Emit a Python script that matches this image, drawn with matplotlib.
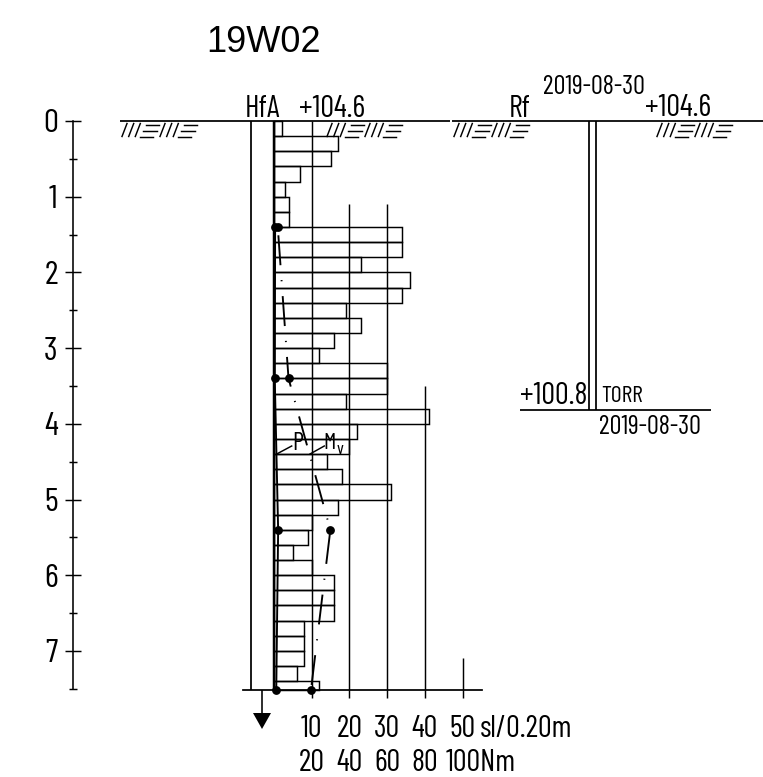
import numpy as np
import matplotlib
matplotlib.use('Agg')
import matplotlib.pyplot as plt
from matplotlib.lines import Line2D
import logging
logging.getLogger('matplotlib.font_manager').setLevel(logging.ERROR)

plt.rcParams['lines.scale_dashes'] = False
plt.rcParams['font.family'] = ['Barlow Condensed', 'Liberation Sans']

W, H = 763, 777

# blow counts per 0.20 m
depth_tops = [0.0, 0.2, 0.4, 0.6, 0.8, 1.0, 1.2, 1.4, 1.6, 1.8, 2.0, 2.2, 2.4, 2.6, 2.8,
              3.0, 3.2, 3.4, 3.6, 3.8, 4.0, 4.2, 4.4, 4.6, 4.8, 5.0, 5.2, 5.4, 5.6, 5.8,
              6.0, 6.2, 6.4, 6.6, 6.8, 7.0, 7.2, 7.4]
depth_size = [0.2] * 37 + [0.12]
blows = [2, 17, 15, 7, 3, 4, 4, 34, 34, 23, 36, 34, 19, 23, 16, 12, 30, 30, 19, 41,
         22, 20, 14, 18, 31, 17, 10, 9, 5, 10, 16, 16, 16, 8, 8, 8, 6, 12]

# torque and push load
load_depth = [1.4, 3.4, 5.4, 7.52]
torque_nm = [2.0, 7.7, 29.9, 19.6]
push_val = [0.3, 0.2, 1.1, 0.6]

grid_x = [10, 20, 30, 40, 50]
grid_top = [0.0, 1.1, 1.1, 3.5, 7.1]
row_sl = ['10', '20', '30', '40', '50']
row_nm = ['20', '40', '60', '80']
depth_ticks = [0, 1, 2, 3, 4, 5, 6, 7]
minor_ticks = [0.5, 1.5, 2.5, 3.5, 4.5, 5.5, 6.5, 7.5]
end_depth = 7.52
rf_depth = 3.82

x0, sx = 274, 3.77
y0, sy = 121, 75.7


def dx(px):
    return (px - x0) / sx


def dy(py):
    return (py - y0) / sy


fig = plt.figure(figsize=(W / 100, H / 100), dpi=100)
ax = fig.add_axes([0, 0, 1, 1], facecolor='none')
ax.set_xlim(dx(0), dx(W))
ax.set_ylim(dy(H), dy(0))

lw = 1.05
ax.barh(depth_tops, blows, height=depth_size, align='edge', left=0, fill=False,
        edgecolor='black', linewidth=lw, zorder=2)
ax.vlines(grid_x, grid_top, end_depth, color='black', lw=lw, zorder=2)

# sounding column
ax.vlines(dx(250.7), 0, end_depth, color='black', lw=lw * 1.2)
ax.vlines(0, 0, end_depth, color='black', lw=lw * 1.7)
ax.hlines(0, dx(120), dx(450), color='black', lw=lw * 1.2)
ax.hlines(0, dx(452), dx(763), color='black', lw=lw * 1.2)

# curves
ax.plot(np.array(torque_nm) / 2, load_depth, color='black', lw=lw * 1.3,
        linestyle=(37.9, (21.6, 10.7, 0.9, 10.7)), zorder=3)
ax.plot(np.array(torque_nm) / 2, load_depth, 'o', color='black', ms=5.3, zorder=4)
ax.plot(push_val, load_depth, color='black', lw=lw * 1.3, zorder=3)
ax.plot(push_val, load_depth, 'o', color='black', ms=5.3, zorder=4)

# depth axis
for s in ['top', 'right']:
    ax.spines[s].set_visible(False)
ax.spines['left'].set_position(('data', dx(73)))
ax.spines['left'].set_bounds(0, 7.5)
ax.spines['left'].set_linewidth(lw * 1.1)
ax.spines['bottom'].set_position(('data', end_depth))
ax.spines['bottom'].set_bounds(dx(243), dx(482))
ax.spines['bottom'].set_linewidth(lw * 1.2)
ax.set_yticks(depth_ticks)
ax.set_yticks(minor_ticks, minor=True)
ax.tick_params(axis='y', which='major', direction='inout', length=12, width=lw, pad=5, labelsize=24)
ax.tick_params(axis='y', which='minor', direction='inout', length=5.8, width=lw)
ax.set_xticks(grid_x)
ax.set_xticklabels([])
ax.tick_params(axis='x', direction='out', length=5.8, width=lw)

for x, a in zip(grid_x, row_sl):
    ax.text(x, dy(737), a, ha='center', va='baseline', fontsize=22)
for x, b in zip(grid_x, row_nm):
    ax.text(x, dy(771), b, ha='center', va='baseline', fontsize=22)
ax.text(dx(480), dy(737), 'sl/0.20m', ha='left', va='baseline', fontsize=22)
ax.text(dx(446), dy(771), '100Nm', ha='left', va='baseline', fontsize=22)

# groundwater arrow
ax.vlines(dx(261.7), end_depth, dy(713), color='black', lw=lw * 1.1)
ax.fill([dx(253), dx(271), dx(262)], [dy(713), dy(713), dy(729)], color='black', lw=0)

# right column
ax.vlines([dx(589), dx(596)], 0, rf_depth, color='black', lw=lw * 1.2)
ax.hlines(rf_depth, dx(520), dx(711), color='black', lw=lw * 1.2)


def px_line(xs, ys, width=lw):
    fig.add_artist(Line2D(np.array(xs) / W, 1 - np.array(ys) / H, color='black',
                          lw=width, transform=fig.transFigure))


def ground(x):
    for k in [0, 38]:
        for d in [0, 6.7, 13.3]:
            px_line([x + k + d, x + k + d + 5], [136.5, 123.5])
        px_line([x + k + 24, x + k + 37.3], [124.5, 124.5])
        px_line([x + k + 21.3, x + k + 34.7], [130.5, 130.5])
        px_line([x + k + 18, x + k + 31.3], [137, 137])


for gx in [122, 327, 454, 657]:
    ground(gx)

# leader lines for the curve names
px_line([276.7, 291.7], [454, 446])
px_line([310, 324.3], [454, 446])


def label(px, py, s, size=22, ha='left'):
    fig.text(px / W, 1 - py / H, s, fontsize=size, ha=ha, va='center')


fig.text(206 / W, 1 - 43 / H, '19W02', fontsize=26, ha='left', va='center', family='Liberation Sans')
label(245, 109, 'HfA')
label(299, 109, '+104.6')
label(509, 109, 'Rf')
label(543, 87, '2019-08-30', size=19)
label(645, 108, '+104.6')
label(520, 396, '+100.8')
label(601, 397, 'TORR', size=17)
label(599, 427, '2019-08-30', size=19)
label(292, 443, 'P', size=18)
label(323, 443, 'M', size=17)
label(337, 449, 'v', size=13)

fig.savefig('out.png', dpi=100)
